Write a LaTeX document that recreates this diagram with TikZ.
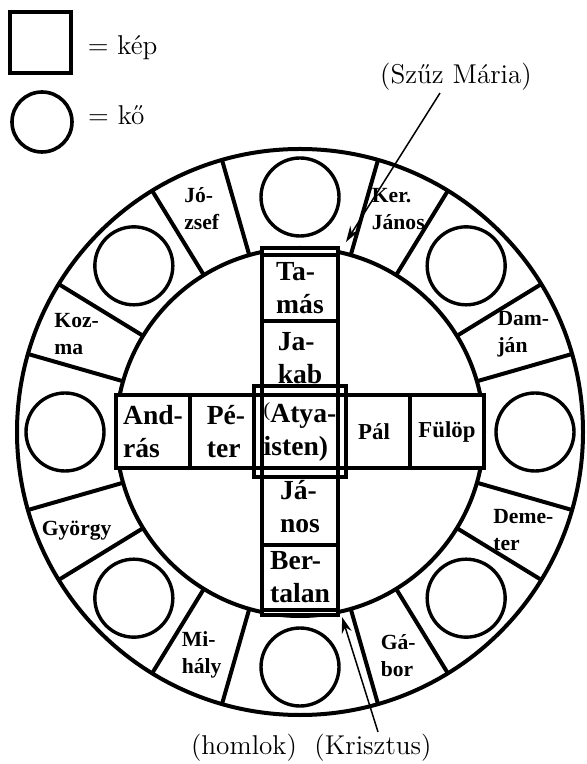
\documentclass[tikz,border=0pt]{standalone}
\usepackage{fontspec}
\usetikzlibrary{positioning,arrows.meta}
\newfontfamily\namefont{Liberation Serif}

\begin{document}
\begin{tikzpicture}[x=0.5pt,y=0.5pt,
  thickline/.style={line width=2pt},
  stone/.style={draw,circle,line width=1.7pt,minimum size=39pt,inner sep=0pt},
  ringname/.style={inner sep=0pt,align=left,font=\namefont\bfseries\fontsize{10.8}{13.5}\selectfont},
  barbox/.style={draw,fill=white,line width=2pt,minimum width=38pt,inner sep=0pt,outer sep=0pt,align=left,font=\namefont\bfseries\fontsize{13.8}{16.5}\selectfont},
  smallbar/.style={barbox,font=\namefont\bfseries\fontsize{11.4}{14}\selectfont},
  caption/.style={inner sep=1pt,font=\fontsize{13.6}{16}\selectfont},
  pointer/.style={-{Stealth[length=8pt,width=5pt]},line width=0.75pt}]
\useasboundingbox (-300,-332) rectangle (286,432);

\node[draw,line width=2pt,minimum size=30.5pt,inner sep=0pt] (pickey) at (-259,389) {};
\node[caption,inner sep=0pt,right=7pt of pickey,yshift=-2.5pt] (kep) {= kép};
\node[draw,circle,line width=1.8pt,minimum size=30pt,inner sep=0pt] (stonekey) at (-258,310) {};
\node[caption,inner sep=0pt,right=7pt of stonekey,yshift=3.5pt] (ko) {= kő};

\draw[thickline] (0,0) circle (283);
\draw[thickline] (0,0) circle (184);
\foreach \k in {0,90,180,270}
  \foreach \a in {16,31.5,58.5,74}
    \draw[thickline] (\k+\a:184) -- (\k+\a:283);

\foreach \a in {0,45,...,315}
  \node[stone] (stone\a) at (\a:235) {};

\foreach \a/\who/\txt in {66.25/kerjanos/{Ker.\\János}, 23.75/damjan/{Dam-\\ján},
    -23.75/demeter/{Deme-\\ter}, -66.25/gabor/{Gá-\\bor}, 246.25/mihaly/{Mi-\\hály},
    203.75/gyorgy/{György}, 156.25/kozma/{Koz-\\ma}, 113.75/jozsef/{Jó-\\zsef}}
  \node[ringname] (\who) at (\a:244) {\txt};

\node[barbox,minimum height=3.5pt] (captop) at (0,180.5) {};
\node[barbox,minimum height=33pt] (tamas) at (0,144) {Ta-\\más};
\node[barbox,minimum height=37.25pt] (jakab) at (0,73.75) {Ja-\\kab};
\node[barbox,minimum height=38.25pt] (janos) at (0,-74.75) {Já-\\nos};
\node[barbox,minimum height=32.5pt] (bertalan) at (0,-145.5) {Ber-\\talan};
\node[barbox,minimum height=2.5pt] (capbot) at (0,-180.5) {};
\node[barbox,minimum width=37pt,minimum height=36.5pt] (andras) at (-147,0) {And-\\rás};
\node[barbox,minimum width=36pt,minimum height=36.5pt] (peter) at (-74,0) {Pé-\\ter};
\node[smallbar,minimum width=36pt,minimum height=36.5pt] (pal) at (74,0) {Pál};
\node[smallbar,minimum width=37pt,minimum height=36.5pt] (fulop) at (147,0) {Fülöp};
\node[barbox,minimum height=36.5pt] (atya) at (0,0) {{\mdseries\fontsize{10}{10}\selectfont\raisebox{3pt}{(}}Atya-\\isten)};
\node[draw,line width=2pt,minimum width=46pt,minimum height=45.5pt,inner sep=0pt] (godframe) at (0,0) {};

\node[caption] (mary) at (156,355) {(Szűz Mária)};
\node[caption] (homlok) at (-56,-316) {(homlok)};
\node[caption] (krisztus) at (73,-316) {(Krisztus)};
\coordinate (marytip) at (46,190);
\coordinate (krisztustip) at (42,-185);
\draw[pointer] ([xshift=-8pt]mary.south) -- (marytip);
\draw[pointer] ([xshift=2.5pt]krisztus.north) -- (krisztustip);
\end{tikzpicture}
\end{document}
